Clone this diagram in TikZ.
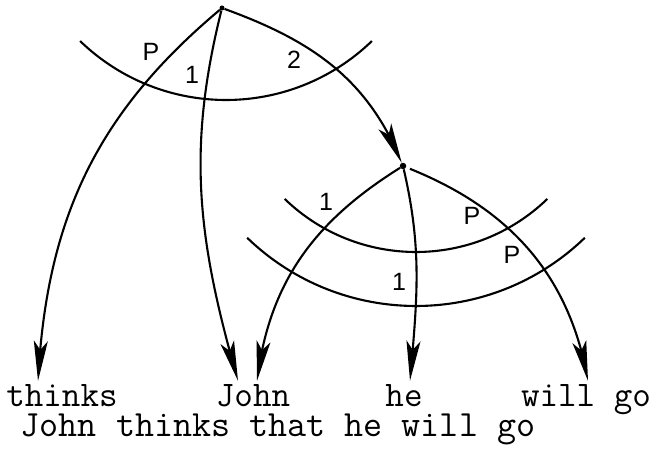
\documentclass[tikz,border=0pt]{standalone}
\usepackage{fontspec}
\setsansfont{Liberation Sans}
\usetikzlibrary{arrows.meta,bending}

\begin{document}
\begin{tikzpicture}[
  x=1pt, y=1pt,
  word/.style   = {font=\ttfamily\fontsize{36}{36}\selectfont,
                   anchor=base, inner sep=0pt, text depth=0pt},
  rlbl/.style   = {font=\sffamily\fontsize{25}{25}\selectfont, inner sep=0pt},
  dot/.style    = {circle, fill, inner sep=0pt, minimum size=5pt},
  deparr/.style = {-{Stealth[length=40pt,width=14pt,inset=9pt]},
                   line width=2.1pt},
  rarc/.style   = {line width=2.1pt},
]
\useasboundingbox (0,0) rectangle (654,448);

\node[dot] (top) at (222,440) {};
\node[dot, minimum size=6.5pt] (sub) at (403,282) {};

% words
\node[word] (thinks) at (62,42)  {thinks};
\node[word] (john)   at (253,42) {John};
\node[word] (he)     at (404,42) {he};
\node[word] (willgo) at (586,42) {will go};
\node[word, font=\ttfamily\fontsize{37}{37}\selectfont] (sent) at (278,12)
  {John thinks that he will go};

% arcs
\coordinate (c1) at (226,558);
\coordinate (c2) at (416,385);
\draw[rarc] (c1) ++(226:210) arc[start angle=226, end angle=314, radius=210];
\draw[rarc] (c2) ++(226:189) arc[start angle=226, end angle=314, radius=189];
\draw[rarc] (c2) ++(226:243) arc[start angle=226, end angle=314, radius=243];

% arc labels
\node[rlbl] (p1) at (151,396) {P};
\node[rlbl] (n1) at (192,373) {1};
\node[rlbl] (n2) at (294,388) {2};
\node[rlbl] (n3) at (326,246) {1};
\node[rlbl] (p2) at (472,232) {P};
\node[rlbl] (p3) at (512,193) {P};
\node[rlbl] (n4) at (399,166) {1};

% dependencies from the top
\draw[deparr] (top) to[out=220, in=87]  ([xshift=-24pt, yshift=3pt]thinks.north);
\draw[deparr] (top) to[out=256, in=106] ([xshift=-15pt, yshift=3pt]john.north);
\draw[deparr] (top) to[out=-20, in=112] (sub);

% dependencies from "thinks that"
\draw[deparr] (sub) to[out=212, in=83]  ([xshift=4pt, yshift=3pt]john.north);
\draw[deparr] (sub) to[out=283, in=85]  ([xshift=6pt, yshift=3pt]he.north);
\draw[deparr, shorten <=4pt] (sub) to[out=-22, in=100]
  ([xshift=2pt, yshift=3pt]willgo.north);

\end{tikzpicture}
\end{document}
